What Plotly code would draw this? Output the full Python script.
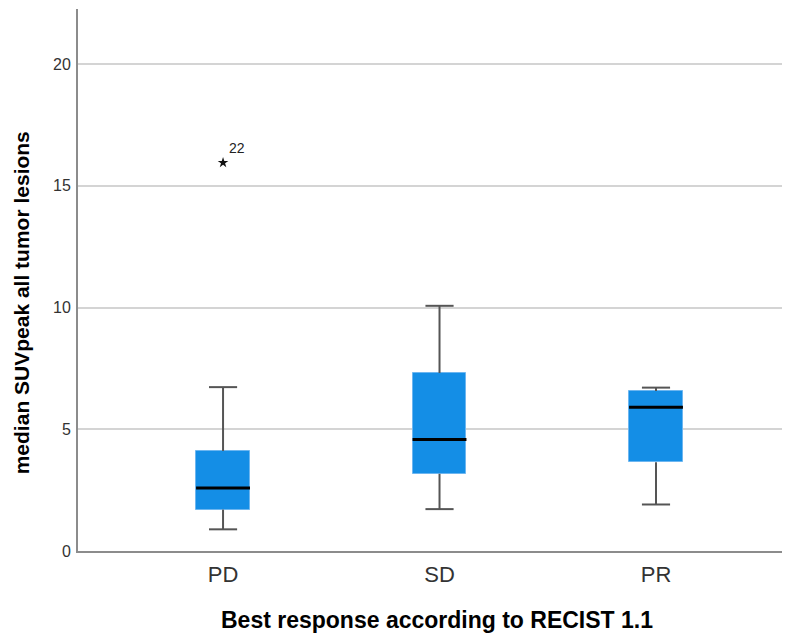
import plotly.graph_objects as go

categories = ["PD", "SD", "PR"]
whisker_low = [0.89, 1.72, 1.91]
q1 = [1.70, 3.17, 3.64]
median = [2.59, 4.58, 5.90]
q3 = [4.11, 7.31, 6.57]
whisker_high = [6.73, 10.07, 6.71]
outlier_cat = [0]
outlier_val = [15.95]
outlier_label = ["22"]
y_ticks = [0, 5, 10, 15, 20]

BOX_W = 0.249
CAP_W = 0.13
pos = list(range(len(categories)))

fig = go.Figure()

# whiskers (vertical + caps)
wx, wy = [], []
for i in pos:
    wx += [i, i, None, i, i, None]
    wy += [q3[i], whisker_high[i], None, q1[i], whisker_low[i], None]
    wx += [i - CAP_W / 2, i + CAP_W / 2, None, i - CAP_W / 2, i + CAP_W / 2, None]
    wy += [whisker_high[i], whisker_high[i], None, whisker_low[i], whisker_low[i], None]
fig.add_trace(go.Scatter(x=wx, y=wy, mode="lines",
                         line=dict(color="#555555", width=2),
                         hoverinfo="skip", showlegend=False))

# boxes
fig.add_trace(go.Bar(x=pos, y=[q3[i] - q1[i] for i in pos], base=q1,
                     width=BOX_W,
                     marker=dict(color="#148EE6",
                                 line=dict(color="#6DB6F0", width=1)),
                     hoverinfo="skip", showlegend=False))

# medians
mx, my = [], []
for i in pos:
    mx += [i - BOX_W / 2, i + BOX_W / 2, None]
    my += [median[i], median[i], None]
fig.add_trace(go.Scatter(x=mx, y=my, mode="lines",
                         line=dict(color="#000000", width=3),
                         hoverinfo="skip", showlegend=False))

# outliers
fig.add_trace(go.Scatter(x=outlier_cat, y=outlier_val, mode="markers",
                         marker=dict(symbol="star", size=8, color="#111111"),
                         hoverinfo="skip", showlegend=False))
for c, v, t in zip(outlier_cat, outlier_val, outlier_label):
    fig.add_annotation(x=c, y=v, text=t, showarrow=False,
                       xanchor="left", yanchor="middle", xshift=4, yshift=15,
                       font=dict(family="Liberation Sans", size=14, color="#222222"))

fig.add_annotation(xref="paper", yref="paper", x=0.504, y=0, yshift=-69,
                   text="<b>Best response according to RECIST 1.1</b>",
                   showarrow=False, xanchor="center", yanchor="middle",
                   font=dict(family="Liberation Sans", size=23, color="#000000"))
fig.add_annotation(xref="paper", yref="paper", x=0, xshift=-57, y=0.457,
                   text="<b>median SUVpeak all tumor lesions</b>", textangle=-90,
                   showarrow=False, xanchor="center", yanchor="middle",
                   font=dict(family="Liberation Sans", size=21, color="#000000"))

# the page body has an 8px default margin, so the figure is offset by 8px
fig.update_layout(
    width=782, height=628,
    margin=dict(l=70, r=0, t=1, b=85),
    plot_bgcolor="white", paper_bgcolor="white",
    showlegend=False, bargap=0,
    xaxis=dict(range=[-0.67, 2.619], tickvals=pos, ticktext=categories,
               showgrid=False, zeroline=False, showline=True,
               linecolor="#8c8c8c", linewidth=2, ticks="",
               tickfont=dict(family="Liberation Sans", size=22, color="#333333"),
               ticklabelstandoff=3),
    yaxis=dict(range=[0, 22.26], tickvals=y_ticks,
               showgrid=True, gridcolor="#d4d4d4", gridwidth=2,
               zeroline=False, showline=True, linecolor="#8c8c8c", linewidth=2,
               ticks="", tickfont=dict(family="Liberation Sans", size=16, color="#333333"),
               ticklabelstandoff=2),
)

fig.write_html("out.html")
